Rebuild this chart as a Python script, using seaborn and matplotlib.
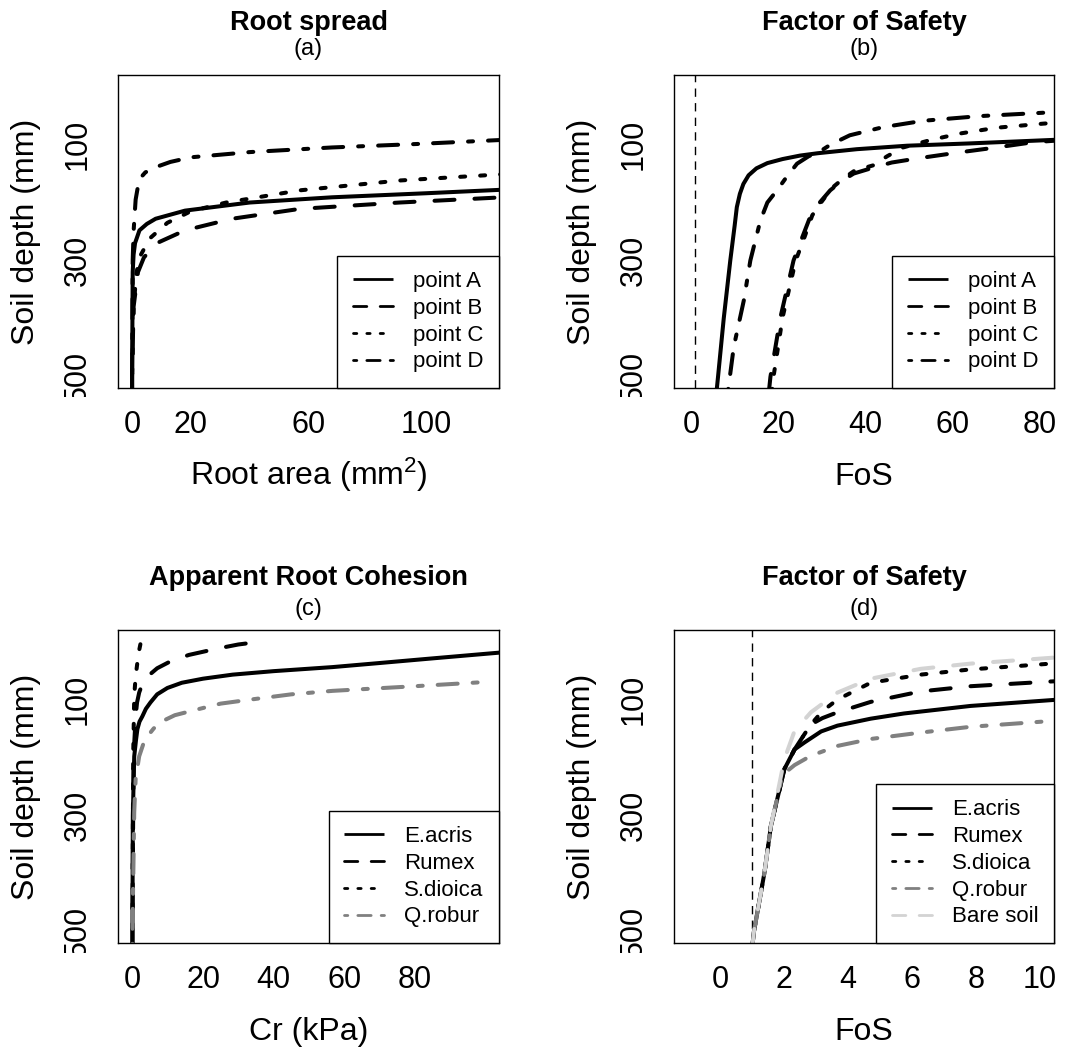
import matplotlib
matplotlib.use("Agg")
import matplotlib.pyplot as plt
import seaborn as sns
from matplotlib.lines import Line2D
from matplotlib.transforms import Bbox, TransformedBbox

# ---------------- data ----------------
# Panel (a): root area (mm^2) vs soil depth (mm)
a_A_x = [0, 0, 0.2, 0.5, 1, 2.5, 5, 8, 18, 40, 68, 100, 130]
a_A_d = [530, 500, 320, 290, 270, 248, 237, 228, 214, 200, 191, 184, 177]
a_B_x = [0, 0, 0.5, 2, 4, 8, 18, 34, 57, 91, 130]
a_B_d = [530, 500, 380, 320, 295, 271, 248, 228, 211, 200, 190]
a_C_x = [0, 0, 0.5, 1.5, 3, 6, 12, 20, 32, 57, 91, 130]
a_C_d = [530, 500, 380, 320, 290, 262, 235, 215, 200, 179, 162, 150]
a_D_x = [0, 0, 0.2, 0.5, 1.2, 2.4, 4.5, 8, 13, 20, 40, 68, 97, 130]
a_D_d = [530, 500, 300, 250, 195, 160, 148, 139, 130, 122, 113, 105, 99, 91]

# Panel (b): FoS vs soil depth, points A-D
b_A_x = [5.8, 6.2, 7.5, 9.0, 10.0, 10.5, 11.2, 12.0, 13.2, 15.0, 17.5, 21, 25, 29, 38, 49.5, 64, 86]
b_A_d = [530, 500, 400, 300, 240, 208, 185, 168, 153, 141, 132, 125, 119, 115, 108, 102, 98, 91]
b_B_x = [17.8, 18.2, 20.5, 23.5, 25.5, 27.3, 29.5, 31.9, 34.5, 37.3, 41.7, 46, 51.8, 61, 70, 78.4, 86]
b_B_d = [530, 501, 398, 300, 260, 225, 200, 179, 163, 150, 140, 131, 124, 114, 105, 96, 92]
b_C_x = [18.5, 18.9, 21.0, 24.0, 26.0, 27.8, 30.0, 32.3, 35.0, 37.5, 41.7, 45, 48.6, 55, 61.6, 70, 80.6, 86]
b_C_d = [530, 501, 398, 300, 260, 222, 198, 175, 158, 145, 136, 120, 105, 92, 81, 71, 64, 61]
b_D_x = [8.4, 8.6, 9.8, 12.1, 13.6, 15.9, 17.5, 19.7, 22, 24.3, 27, 28.9, 32, 36.4, 44, 53.2, 66, 86]
b_D_d = [530, 518, 449, 369, 300, 231, 200, 179, 155, 133, 120, 115, 100, 84, 70, 59, 51, 43]

# Panel (c): apparent root cohesion Cr (kPa) vs soil depth
c_E_x = [0, 0, 0.1, 0.5, 1.0, 1.4, 2.0, 2.8, 3.8, 5.1, 7, 9.9, 14, 20, 28.4, 40, 56.7, 70, 85, 106]
c_E_d = [530, 500, 300, 198, 170, 151, 138, 129, 116, 105, 91, 80, 71, 64, 57, 51, 44, 37, 29, 18]
c_R_x = [0, 0, 0.3, 0.9, 1.3, 1.9, 2.8, 4.3, 7, 10.8, 16, 24.1, 30, 36.4]
c_R_d = [530, 500, 200, 129, 105, 88, 73, 60, 46, 34, 23, 12, 5, 0]
c_S_x = [0, 0, 0.2, 0.5, 0.9, 1.4, 1.9, 2.4]
c_S_d = [530, 500, 200, 94, 60, 36, 15, 0]
c_Q_x = [0, 0, 0.5, 0.9, 1.9, 3, 4.3, 6, 7.9, 12, 18.4, 25, 33.5, 45, 56.7, 80, 102]
c_Q_d = [530, 500, 294, 237, 198, 178, 163, 150, 139, 127, 117, 107, 100, 91, 85, 77, 69]

# Panel (d): FoS vs soil depth, species + bare soil
d_E_x = [1.0, 1.06, 1.39, 1.59, 2.01, 2.33, 2.64, 3.16, 3.67, 4.71, 5.75, 7.83, 10.6]
d_E_d = [530, 500, 398, 318, 220, 186, 174, 155, 145, 133, 124, 111, 100]
d_R_x = [1.0, 1.06, 1.39, 1.59, 2.01, 2.33, 2.6, 2.84, 3.2, 3.67, 4.71, 6.27, 7.83, 10.6]
d_R_d = [530, 500, 398, 318, 220, 186, 163, 143, 132, 122, 104, 86, 77, 68]
d_S_x = [1.0, 1.06, 1.39, 1.59, 2.01, 2.33, 2.6, 2.84, 3.2, 3.67, 4.71, 6.27, 7.83, 10.6]
d_S_d = [530, 500, 398, 318, 220, 186, 163, 143, 120, 100, 71, 57, 48, 37]
d_Q_x = [1.0, 1.06, 1.39, 1.59, 1.95, 2.33, 2.84, 3.67, 4.71, 6.27, 7.83, 10.6]
d_Q_d = [530, 500, 398, 318, 230, 213, 197, 180, 168, 157, 147, 136]
d_B_x = [1.0, 1.06, 1.39, 1.59, 2.01, 2.33, 2.84, 3.67, 4.71, 6.27, 7.83, 10.6]
d_B_d = [530, 500, 398, 318, 203, 154, 122, 88, 64, 47, 38, 27]

point_labels = ["point A", "point B", "point C", "point D"]
species_labels = ["E.acris", "Rumex", "S.dioica", "Q.robur", "Bare soil"]

depth_ticks = [0, 100, 200, 300, 400, 500]
depth_ticklabels = ["", "100", "", "300", "", "500"]

# ---------------- style ----------------
sns.set_theme(style="white")
plt.rcParams["font.family"] = ["Liberation Sans", "DejaVu Sans"]
plt.rcParams["mathtext.fontset"] = "custom"
plt.rcParams["mathtext.rm"] = "Liberation Sans"
plt.rcParams["mathtext.it"] = "Liberation Sans"
plt.rcParams["lines.scale_dashes"] = False
plt.rcParams["text.color"] = "black"
plt.rcParams["axes.labelcolor"] = "black"
plt.rcParams["xtick.color"] = "black"
plt.rcParams["ytick.color"] = "black"


def patterns(u):
    return {
        "solid": "-",
        "dashed": (0, (4 * u, 4 * u)),
        "dotted": (0, (1 * u, 3 * u)),
        "dotdash": (0, (1 * u, 3 * u, 4 * u, 3 * u)),
    }


LW = 2.9
STYLES = patterns(3.6)
LEG_LW = 2.0
LEG_STYLES = patterns(2.4)
GREY = "#808080"
LIGHT = "#D3D3D3"

W, H = 1074, 1049
fig = plt.figure(figsize=(W / 100, H / 100), dpi=100)


def make_axes(left, right, top, bottom):
    return fig.add_axes([left / W, 1 - bottom / H, (right - left) / W, (bottom - top) / H])


ax_a = make_axes(118, 499, 75, 388)
ax_b = make_axes(674, 1054, 75, 388)
ax_c = make_axes(118, 499, 630, 943)
ax_d = make_axes(674, 1054, 630, 943)

TICK_FS = 22
LABEL_FS = 23
TITLE_FS = 19.5
SUB_FS = 17
LEG_FS = 16


def draw(ax, xs, ds, style, color, label):
    sns.lineplot(x=xs, y=ds, ax=ax, sort=False, estimator=None, color=color,
                 lw=LW, linestyle=STYLES[style], dash_capstyle="round",
                 solid_capstyle="round", label=label, legend=False)


def finish(ax, xlim, xticks, xticklabels, xlabel, title, sub, sub_off, clip_y, series, labels):
    ax.set_xlim(*xlim)
    ax.set_ylim(520, -20)
    ax.set_xticks(xticks)
    ax.set_xticklabels(xticklabels)
    ax.set_yticks(depth_ticks)
    ax.set_yticklabels(depth_ticklabels, rotation=90, va="center")
    ax.tick_params(axis="both", direction="out", length=10, width=1.0,
                   color="black", labelcolor="black", labelsize=TICK_FS)
    ax.tick_params(axis="x", pad=6)
    ax.tick_params(axis="y", pad=8)
    for sp in ax.spines.values():
        sp.set_color("black")
        sp.set_linewidth(1.0)
        sp.set_visible(True)
    bb = ax.get_position()
    w_px = bb.width * W
    h_px = bb.height * H
    ax.set_xlabel(xlabel, fontsize=LABEL_FS, color="black")
    ax.xaxis.label.set_va("baseline")
    ax.xaxis.set_label_coords(0.5, -97 / h_px)
    ax.set_ylabel("Soil depth (mm)", fontsize=LABEL_FS, color="black")
    ax.yaxis.label.set_va("baseline")
    ax.yaxis.set_label_coords(-84 / w_px, 0.5)
    ax.text(0.5, 1 + 45 / h_px, title, transform=ax.transAxes, ha="center",
            va="baseline", fontsize=TITLE_FS, fontweight="bold", color="black")
    ax.text(0.5, 1 + sub_off / h_px, sub, transform=ax.transAxes, ha="center",
            va="baseline", fontsize=SUB_FS, color="black")
    handles = [Line2D([], [], color=c, lw=LEG_LW, linestyle=LEG_STYLES[s],
                      dash_capstyle="round", solid_capstyle="butt")
               for s, c in series]
    leg = ax.legend(handles, labels, loc="lower right",
                    borderaxespad=0, frameon=True, fancybox=False, framealpha=1,
                    edgecolor="black", fontsize=LEG_FS, handlelength=1.8,
                    handletextpad=0.9, labelspacing=0.26, borderpad=0.7)
    leg.get_frame().set_linewidth(1.0)
    for t in leg.get_texts():
        t.set_color("black")
    clip = TransformedBbox(Bbox.from_extents(0, 1 - clip_y / H, 1, 1), fig.transFigure)
    for lab in ax.get_yticklabels():
        lab.set_clip_box(clip)
        lab.set_clip_on(True)


point_styles = [("solid", "black"), ("dashed", "black"), ("dotted", "black"), ("dotdash", "black")]
species_styles = [("solid", "black"), ("dashed", "black"), ("dotted", "black"), ("dotdash", GREY)]
species5_styles = species_styles + [("dashed", LIGHT)]

# Panel (a)
for (xs, ds), (st, col), lab in zip([(a_A_x, a_A_d), (a_B_x, a_B_d), (a_C_x, a_C_d), (a_D_x, a_D_d)],
                                    point_styles, point_labels):
    draw(ax_a, xs, ds, st, col, lab)
finish(ax_a, (-4.8, 124.8), list(range(0, 121, 20)), ["0", "20", "", "60", "", "100", ""],
       r"Root area (mm$^2$)", "Root spread", "(a)", 20, 397, point_styles, point_labels)

# Panel (b)
ax_b.axvline(1, color="black", lw=1.0, linestyle=(0, (6, 4.5)))
for (xs, ds), (st, col), lab in zip([(b_A_x, b_A_d), (b_B_x, b_B_d), (b_C_x, b_C_d), (b_D_x, b_D_d)],
                                    point_styles, point_labels):
    draw(ax_b, xs, ds, st, col, lab)
finish(ax_b, (-3.9, 83.2), list(range(0, 81, 20)), ["0", "20", "40", "60", "80"],
       "FoS", "Factor of Safety", "(b)", 20, 397, point_styles, point_labels)

# Panel (c)
for (xs, ds), (st, col), lab in zip([(c_E_x, c_E_d), (c_R_x, c_R_d), (c_S_x, c_S_d), (c_Q_x, c_Q_d)],
                                    species_styles, species_labels[:4]):
    draw(ax_c, xs, ds, st, col, lab)
finish(ax_c, (-4.1, 103.9), list(range(0, 101, 20)), ["0", "20", "40", "60", "80", ""],
       "Cr (kPa)", "Apparent Root Cohesion", "(c)", 15, 953, species_styles, species_labels[:4])

# Panel (d)
ax_d.axvline(1, color="black", lw=1.0, linestyle=(0, (6, 4.5)))
for (xs, ds), (st, col), lab in zip([(d_E_x, d_E_d), (d_R_x, d_R_d), (d_S_x, d_S_d),
                                     (d_Q_x, d_Q_d), (d_B_x, d_B_d)],
                                    species5_styles, species_labels):
    draw(ax_d, xs, ds, st, col, lab)
finish(ax_d, (-1.44, 10.44), list(range(0, 11, 2)), ["0", "2", "4", "6", "8", "10"],
       "FoS", "Factor of Safety", "(d)", 15, 953, species5_styles, species_labels)

fig.savefig("out.png", dpi=100, facecolor="white")
